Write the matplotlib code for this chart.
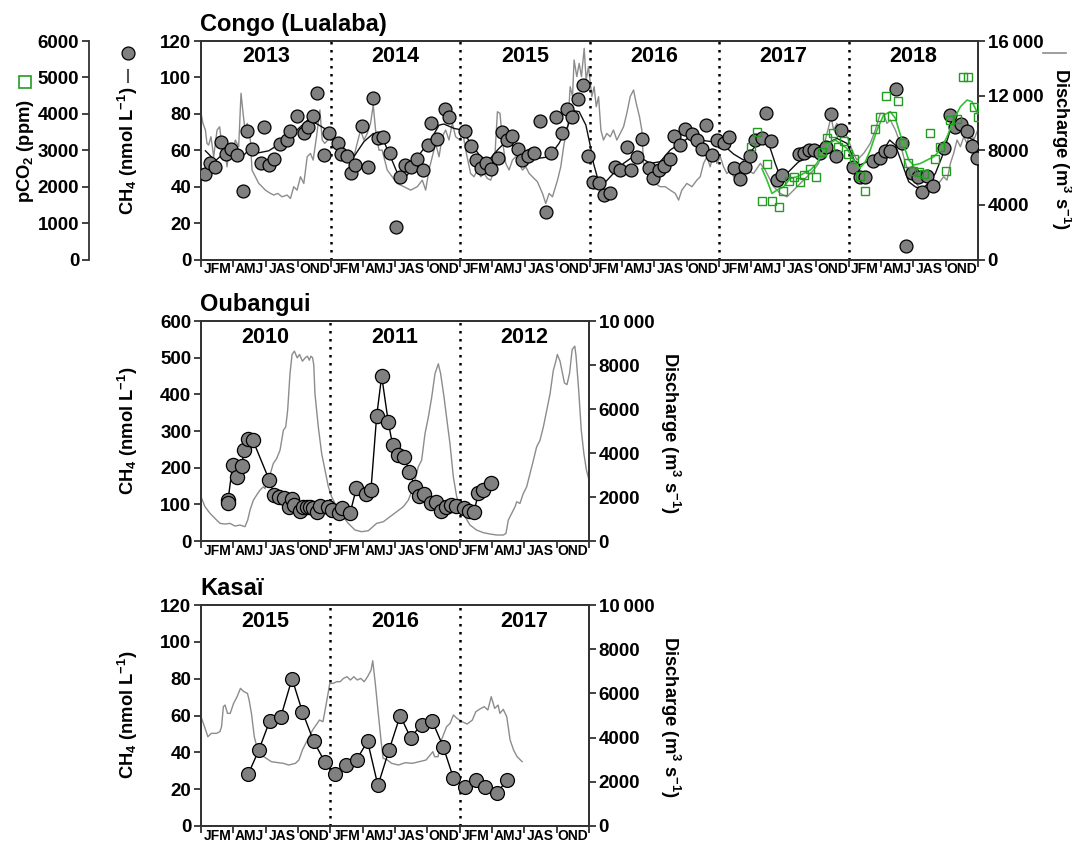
import numpy as np
import matplotlib
matplotlib.use('Agg')
import matplotlib.pyplot as plt
from matplotlib.lines import Line2D
from matplotlib.ticker import FuncFormatter

plt.rcParams['font.family'] = ['Liberation Sans', 'DejaVu Sans']
plt.rcParams['font.weight'] = 'bold'
plt.rcParams['mathtext.fontset'] = 'custom'
plt.rcParams['mathtext.rm'] = 'Liberation Sans:bold'
plt.rcParams['mathtext.it'] = 'Liberation Sans:bold'
plt.rcParams['mathtext.bf'] = 'Liberation Sans:bold'
plt.rcParams['mathtext.default'] = 'bf'

QUARTERS = ['JFM', 'AMJ', 'JAS', 'OND']

# ---------------- Congo (Lualaba), 2013-2018 ----------------
congo_years = [2013, 2014, 2015, 2016, 2017, 2018]

congo_ch4_t = [
    2013.031, 2013.070, 2013.108, 2013.152, 2013.193, 2013.234, 2013.278, 2013.327, 2013.358, 2013.396,
    2013.461, 2013.489, 2013.523, 2013.564, 2013.610, 2013.662, 2013.687, 2013.744, 2013.793, 2013.826,
    2013.862, 2013.896, 2013.952, 2013.991,
    2014.059, 2014.082, 2014.129, 2014.160, 2014.188, 2014.247, 2014.289, 2014.325, 2014.366, 2014.407,
    2014.459, 2014.503, 2014.536, 2014.575, 2014.619, 2014.665, 2014.711, 2014.753, 2014.776, 2014.825,
    2014.881, 2014.912,
    2015.036, 2015.087, 2015.120, 2015.163, 2015.204, 2015.240, 2015.291, 2015.327, 2015.365, 2015.403,
    2015.449, 2015.482, 2015.528, 2015.574, 2015.617, 2015.663, 2015.702, 2015.740, 2015.791, 2015.824,
    2015.867, 2015.908, 2015.949, 2015.990,
    2016.026, 2016.070, 2016.113, 2016.160, 2016.196, 2016.237, 2016.289, 2016.322, 2016.366, 2016.407,
    2016.456, 2016.490, 2016.534, 2016.577, 2016.619, 2016.655, 2016.696, 2016.740, 2016.791, 2016.830,
    2016.871, 2016.902, 2016.946, 2016.985,
    2017.036, 2017.075, 2017.118, 2017.159, 2017.203, 2017.237, 2017.280, 2017.332, 2017.365, 2017.401,
    2017.447, 2017.486, 2017.614, 2017.653, 2017.694, 2017.735, 2017.781, 2017.828, 2017.864, 2017.905,
    2017.941,
    2018.034, 2018.085, 2018.129, 2018.188, 2018.240, 2018.284, 2018.322, 2018.369, 2018.415, 2018.446,
    2018.490, 2018.534, 2018.567, 2018.606, 2018.650, 2018.735, 2018.781, 2018.825, 2018.869, 2018.915,
    2018.954, 2018.992,
]
congo_ch4 = [
    46.9, 53.1, 50.6, 64.5, 57.9, 60.5, 57.2, 37.7, 70.7, 60.8,
    53.1, 72.5, 52.0, 55.3, 63.4, 65.6, 70.7, 78.8, 69.2, 72.9,
    78.8, 91.6, 57.5, 69.6,
    64.1, 57.9, 56.8, 47.6, 51.8, 73.3, 50.6, 88.9, 67.0, 67.4,
    58.6, 18.0, 45.4, 51.7, 50.6, 55.0, 49.1, 62.8, 75.1, 66.0,
    82.4, 78.0,
    70.7, 62.3, 54.6, 50.2, 52.8, 49.5, 55.7, 70.2, 65.6, 67.8,
    60.5, 54.6, 56.8, 58.6, 76.2, 26.2, 58.3, 78.0, 69.6, 82.4,
    78.4, 87.9, 95.8, 56.8,
    42.7, 42.1, 35.2, 36.6, 50.6, 49.1, 61.6, 49.1, 56.4, 66.0,
    50.0, 44.7, 49.1, 51.3, 55.0, 68.1, 62.8, 71.4, 68.9, 65.6,
    60.8, 73.8, 57.2, 65.6,
    63.8, 67.4, 50.0, 44.3, 50.9, 56.8, 65.6, 67.0, 80.6, 65.2,
    43.6, 46.3, 57.9, 58.6, 60.1, 60.1, 58.6, 61.9, 79.9, 56.8,
    71.1,
    50.9, 45.4, 45.4, 53.9, 55.5, 59.7, 59.7, 93.4, 64.1, 7.3,
    47.3, 45.1, 37.0, 45.8, 40.3, 61.0, 79.3, 72.5, 74.4, 70.7,
    62.3, 55.5,
]

# running-mean CH4 curve
congo_ch4_smooth_t = [
    2013.034, 2013.111, 2013.175, 2013.253, 2013.317, 2013.394, 2013.446, 2013.523, 2013.613, 2013.691,
    2013.768, 2013.825, 2013.897, 2013.974, 2014.052, 2014.129, 2014.180, 2014.258, 2014.330, 2014.399,
    2014.464, 2014.528, 2014.567, 2014.631, 2014.696, 2014.773, 2014.838, 2014.876, 2014.954, 2015.018,
    2015.082, 2015.160, 2015.224, 2015.289, 2015.353, 2015.405, 2015.469, 2015.546, 2015.598, 2015.688,
    2015.765, 2015.830, 2015.881, 2015.920, 2015.972, 2016.005, 2016.031, 2016.070, 2016.108, 2016.185,
    2016.263, 2016.353, 2016.404, 2016.469, 2016.546, 2016.623, 2016.700, 2016.778, 2016.855, 2016.945,
    2017.035, 2017.113, 2017.190, 2017.267, 2017.331, 2017.383, 2017.434, 2017.473, 2017.525, 2017.602,
    2017.679, 2017.756, 2017.834, 2017.911, 2017.988, 2018.065, 2018.117, 2018.168, 2018.246, 2018.318,
    2018.362, 2018.413, 2018.465, 2018.516, 2018.568, 2018.619, 2018.671, 2018.722, 2018.786, 2018.838,
    2018.915, 2018.967, 2019.000,
]
congo_ch4_smooth = [
    59.7, 54.2, 58.3, 57.9, 56.4, 61.9, 58.6, 59.7, 63.8, 67.8,
    72.9, 76.6, 74.4, 71.1, 63.8, 57.3, 56.4, 64.7, 69.2, 67.0,
    56.4, 45.4, 44.0, 50.0, 58.6, 65.6, 73.8, 74.4, 72.0, 71.1,
    63.8, 56.4, 54.6, 60.1, 64.7, 62.8, 57.9, 61.0, 55.5, 56.4,
    63.8, 72.9, 81.7, 81.2, 73.8, 62.8, 52.8, 42.7, 41.4, 47.3,
    52.8, 57.3, 55.5, 52.8, 53.7, 60.1, 63.8, 67.4, 65.6, 64.7,
    62.8, 57.9, 54.6, 61.0, 67.4, 63.8, 52.8, 45.4, 47.3, 52.8,
    57.3, 61.9, 63.8, 66.5, 63.8, 51.3, 52.8, 54.6, 57.3, 65.6,
    62.8, 52.8, 42.7, 39.9, 38.5, 42.1, 47.3, 56.4, 71.1, 73.3,
    67.4, 65.6, 60.1,
]

congo_pco2_t = [
    2017.246, 2017.293, 2017.331, 2017.370, 2017.409, 2017.460, 2017.494, 2017.537, 2017.576, 2017.628,
    2017.653, 2017.700, 2017.751, 2017.795, 2017.834, 2017.880, 2017.919, 2017.962, 2017.996,
    2018.045, 2018.086, 2018.130, 2018.207, 2018.246, 2018.292, 2018.336, 2018.380, 2018.421, 2018.457,
    2018.496, 2018.542, 2018.586, 2018.627, 2018.666, 2018.709, 2018.756, 2018.787, 2018.838, 2018.884,
    2018.923, 2018.967, 2019.000,
]
congo_pco2 = [
    3096, 3508, 1612, 2611, 1612, 1429, 1887, 2162, 2272, 2134,
    2318, 2473, 2253, 2959, 3325, 3462, 3078, 3261, 2895,
    2748, 2290, 1887, 3572, 3902, 4488, 3939, 4360, 3206, 2656,
    2437, 2409, 2345, 3462, 2748, 3096, 2437, 3829, 3847, 5020,
    5020, 4195, 3902,
]
congo_pco2_smooth_t = [
    2017.331, 2017.370, 2017.409, 2017.447, 2017.499, 2017.550, 2017.602, 2017.653, 2017.705, 2017.756,
    2017.795, 2017.847, 2017.898, 2017.937, 2017.988, 2018.040, 2018.086, 2018.130, 2018.168, 2018.220,
    2018.271, 2018.323, 2018.362, 2018.413, 2018.465, 2018.503, 2018.555, 2018.606, 2018.658, 2018.709,
    2018.761, 2018.812, 2018.864, 2018.915, 2018.954, 2018.998,
]
congo_pco2_smooth = [
    2500, 2180, 1814, 1905, 1997, 2226, 2272, 2363, 2455, 2638,
    2913, 3188, 3279, 3188, 3050, 2730, 2500, 2684, 3004, 3554,
    3966, 4058, 3875, 3279, 2730, 2592, 2638, 2730, 2821, 3004,
    3371, 3829, 4195, 4378, 4333, 4012,
]

congo_q_t = [
    2013.003, 2013.015, 2013.034, 2013.046, 2013.059, 2013.077, 2013.098, 2013.124, 2013.144, 2013.162,
    2013.175, 2013.201, 2013.222, 2013.240, 2013.265, 2013.291, 2013.309, 2013.325, 2013.343, 2013.356,
    2013.381, 2013.394, 2013.420, 2013.446, 2013.472, 2013.497, 2013.536, 2013.562, 2013.593, 2013.626,
    2013.665, 2013.691, 2013.716, 2013.742, 2013.768, 2013.794, 2013.820, 2013.845, 2013.866, 2013.892,
    2013.918, 2013.936, 2013.956, 2013.979, 2014.000, 2014.026, 2014.052, 2014.090, 2014.116, 2014.142,
    2014.180, 2014.206, 2014.232, 2014.258, 2014.284, 2014.309, 2014.330, 2014.348, 2014.374, 2014.399,
    2014.438, 2014.477, 2014.515, 2014.567, 2014.619, 2014.670, 2014.709, 2014.735, 2014.760, 2014.786,
    2014.812, 2014.838, 2014.863, 2014.889, 2014.915, 2014.941, 2014.966, 2015.000, 2015.018, 2015.044,
    2015.082, 2015.108, 2015.134, 2015.160, 2015.186, 2015.211, 2015.237, 2015.263, 2015.289, 2015.309,
    2015.327, 2015.353, 2015.379, 2015.405, 2015.430, 2015.456, 2015.482, 2015.508, 2015.534, 2015.559,
    2015.598, 2015.637, 2015.662, 2015.688, 2015.714, 2015.753, 2015.778, 2015.804, 2015.830, 2015.851,
    2015.869, 2015.881, 2015.902, 2015.920, 2015.938, 2015.959, 2015.974, 2015.992, 2016.018, 2016.036,
    2016.052, 2016.070, 2016.088, 2016.108, 2016.134, 2016.160, 2016.185, 2016.211, 2016.237, 2016.263,
    2016.288, 2016.314, 2016.340, 2016.361, 2016.386, 2016.404, 2016.417, 2016.443, 2016.469, 2016.507,
    2016.546, 2016.585, 2016.623, 2016.662, 2016.688, 2016.713, 2016.752, 2016.791, 2016.829, 2016.855,
    2016.881, 2016.907, 2016.932, 2016.958, 2016.984, 2017.010, 2017.035, 2017.061, 2017.087, 2017.113,
    2017.138, 2017.164, 2017.216, 2017.267, 2017.319, 2017.357, 2017.383, 2017.422, 2017.473, 2017.525,
    2017.576, 2017.628, 2017.679, 2017.731, 2017.769, 2017.795, 2017.821, 2017.847, 2017.865, 2017.885,
    2017.911, 2017.937, 2017.962, 2018.001, 2018.027, 2018.065, 2018.117, 2018.168, 2018.207, 2018.246,
    2018.271, 2018.297, 2018.323, 2018.362, 2018.400, 2018.426, 2018.465, 2018.503, 2018.542, 2018.586,
    2018.619, 2018.658, 2018.696, 2018.735, 2018.761, 2018.787, 2018.812, 2018.838, 2018.864, 2018.890,
    2018.915, 2018.941, 2018.967, 2018.998,
]
congo_q = [
    10580, 9970, 9480, 8500, 8380, 8990, 7520, 9480, 9720, 8260,
    8750, 6790, 8500, 7650, 8750, 8260, 12170, 10700, 9230, 9970,
    8750, 6550, 6060, 5570, 5330, 5080, 4840, 4720, 4840, 4590,
    4720, 4470, 5330, 5080, 6060, 5570, 7520, 7770, 7280, 8990,
    10950, 8750, 8500, 8750, 9480, 8990, 8010, 8500, 7770, 8010,
    7520, 8500, 9480, 8750, 9230, 9970, 11310, 9480, 8010, 8010,
    6550, 6060, 5570, 5330, 5080, 5330, 5810, 5080, 6550, 7520,
    8500, 7520, 8990, 9480, 8750, 9970, 8990, 8750, 9480, 8010,
    6300, 6060, 6550, 6060, 6300, 5940, 5810, 6550, 10820, 10700,
    8750, 7040, 6550, 7280, 7520, 7040, 6550, 6790, 6300, 6060,
    5690, 4840, 4100, 4840, 4590, 5810, 6790, 8500, 9480, 12650,
    11920, 14610, 13390, 14360, 13390, 15460, 13140, 14120, 11920, 12650,
    11190, 11920, 9480, 8750, 9230, 8990, 9480, 8750, 9230, 9720,
    10700, 11920, 12410, 11430, 10460, 9480, 7040, 6550, 6060, 5570,
    5330, 5330, 5080, 4840, 4350, 5080, 5570, 5330, 5810, 6060,
    7040, 7520, 6790, 7770, 7040, 7520, 6790, 6300, 6550, 6060,
    5810, 6060, 6550, 6300, 7040, 6550, 6060, 5330, 4840, 4590,
    5080, 5570, 6060, 6550, 7040, 7770, 8750, 9720, 10460, 9480,
    9970, 8990, 9480, 8750, 8010, 7280, 7770, 8500, 9480, 10700,
    10700, 9970, 10210, 9480, 8500, 7520, 6300, 5810, 5330, 4840,
    5080, 5330, 5570, 6060, 5810, 7040, 7770, 8750, 8260, 8990,
    8500, 9480, 8750, 9480,
]

# ---------------- Oubangui, 2010-2012 ----------------
oub_years = [2010, 2011, 2012]
oub_ch4_t = [
    2010.206, 2010.206, 2010.245, 2010.278, 2010.314, 2010.335, 2010.366, 2010.399, 2010.528, 2010.567,
    2010.603, 2010.644, 2010.680, 2010.706, 2010.722, 2010.765, 2010.791, 2010.817, 2010.843, 2010.869,
    2010.899, 2010.920, 2010.985, 2011.010, 2011.067, 2011.088, 2011.152, 2011.201, 2011.273, 2011.314,
    2011.358, 2011.397, 2011.448, 2011.482, 2011.526, 2011.572, 2011.611, 2011.655, 2011.688, 2011.727,
    2011.776, 2011.817, 2011.856, 2011.894, 2011.933, 2011.972, 2012.034, 2012.070, 2012.111, 2012.144,
    2012.183, 2012.240,
]
oub_ch4 = [
    111.5, 104.3, 206.7, 173.2, 204.9, 249.3, 279.2, 276.5, 165.9, 125.1,
    118.8, 116.0, 93.4, 113.3, 97.9, 82.5, 93.4, 93.4, 93.4, 88.8,
    79.8, 95.2, 93.4, 84.3, 75.2, 88.8, 75.2, 143.2, 126.9, 138.7,
    340.0, 449.7, 324.6, 261.0, 233.9, 229.4, 188.6, 147.8, 122.4, 127.8,
    102.4, 106.1, 82.5, 93.4, 97.9, 95.2, 88.8, 82.5, 79.8, 129.6,
    138.7, 158.7,
]
oub_q_t = [
    2010.000, 2010.031, 2010.070, 2010.108, 2010.147, 2010.186, 2010.224, 2010.263, 2010.302, 2010.340,
    2010.361, 2010.379, 2010.405, 2010.430, 2010.456, 2010.482, 2010.495, 2010.521, 2010.559, 2010.585,
    2010.611, 2010.637, 2010.655, 2010.670, 2010.688, 2010.704, 2010.722, 2010.744, 2010.762, 2010.784,
    2010.805, 2010.823, 2010.837, 2010.850, 2010.863, 2010.872, 2010.881, 2010.907, 2010.933, 2010.959,
    2010.985, 2011.010, 2011.036, 2011.088, 2011.139, 2011.191, 2011.242, 2011.294, 2011.358, 2011.410,
    2011.461, 2011.513, 2011.564, 2011.603, 2011.642, 2011.680, 2011.706, 2011.732, 2011.758, 2011.784,
    2011.809, 2011.835, 2011.853, 2011.879, 2011.905, 2011.925, 2011.951, 2011.977, 2012.003, 2012.041,
    2012.080, 2012.131, 2012.183, 2012.235, 2012.286, 2012.338, 2012.358, 2012.376, 2012.402, 2012.428,
    2012.441, 2012.466, 2012.492, 2012.518, 2012.544, 2012.570, 2012.595, 2012.621, 2012.647, 2012.673,
    2012.699, 2012.724, 2012.745, 2012.755, 2012.776, 2012.810, 2012.830, 2012.850, 2012.870, 2012.890,
    2012.900, 2012.920, 2012.940, 2012.960, 2012.980, 2013.000,
]
oub_q = [
    2010, 1556, 1254, 1027, 801, 771, 801, 680, 725, 650,
    952, 1405, 1858, 2085, 2312, 2463, 2387, 2765, 3520, 3747,
    4125, 5032, 5183, 5938, 7600, 8478, 8630, 8325, 8478, 8173,
    8325, 8401, 8219, 8401, 8325, 8000, 6694, 5183, 3974, 3218,
    2463, 2010, 1707, 1179, 801, 498, 423, 468, 801, 876,
    1103, 1330, 1556, 1858, 2463, 3370, 3672, 4880, 5636, 6543,
    7600, 8054, 7600, 6543, 5334, 4427, 2916, 2010, 1556, 1103,
    725, 498, 378, 317, 272, 272, 347, 952, 1254, 1556,
    1783, 1707, 2160, 2463, 3067, 3672, 4276, 4578, 5183, 5938,
    6694, 7751, 8205, 8478, 8173, 7184, 7108, 7640, 8706, 8858,
    8401, 6879, 5053, 3988, 3227, 2770,
]

# ---------------- Kasai, 2015-2017 ----------------
kas_years = [2015, 2016, 2017]
kas_ch4_t = [
    2015.364, 2015.446, 2015.531, 2015.616, 2015.704, 2015.784, 2015.871, 2015.956, 2016.036, 2016.124,
    2016.203, 2016.288, 2016.368, 2016.453, 2016.540, 2016.620, 2016.705, 2016.788, 2016.873, 2016.952,
    2017.040, 2017.130, 2017.199, 2017.287, 2017.369,
]
kas_ch4 = [
    28, 41, 57, 59, 80, 62, 46, 35, 28, 33,
    36, 46, 22, 41, 60, 48, 55, 57, 43, 26,
    21, 25, 21, 18, 25,
]
kas_q_t = [
    2015.000, 2015.027, 2015.053, 2015.080, 2015.120, 2015.146, 2015.159, 2015.173, 2015.186, 2015.205,
    2015.226, 2015.252, 2015.279, 2015.305, 2015.332, 2015.359, 2015.372, 2015.390, 2015.412, 2015.438,
    2015.465, 2015.505, 2015.544, 2015.598, 2015.637, 2015.677, 2015.730, 2015.757, 2015.784, 2015.810,
    2015.837, 2015.863, 2015.890, 2015.916, 2015.943, 2015.969, 2015.996, 2016.023, 2016.049, 2016.076,
    2016.102, 2016.129, 2016.155, 2016.182, 2016.208, 2016.235, 2016.262, 2016.288, 2016.315, 2016.328,
    2016.349, 2016.368, 2016.389, 2016.408, 2016.434, 2016.474, 2016.527, 2016.580, 2016.633, 2016.687,
    2016.740, 2016.793, 2016.806, 2016.833, 2016.859, 2016.899, 2016.926, 2016.952, 2016.979, 2017.019,
    2017.058, 2017.098, 2017.125, 2017.165, 2017.191, 2017.218, 2017.244, 2017.271, 2017.297, 2017.311,
    2017.337, 2017.364, 2017.390, 2017.417, 2017.444, 2017.470, 2017.483,
]
kas_q = [
    4946, 4494, 4041, 4192, 4192, 4268, 4494, 5399, 5474, 5097,
    5097, 5549, 5851, 6228, 6077, 6002, 5700, 5097, 4041, 3438,
    3212, 3061, 2910, 2865, 2835, 2760, 2835, 2986, 3438, 3740,
    4041, 4343, 4569, 4795, 4720, 5549, 6454, 6454, 6530, 6530,
    6680, 6756, 6605, 6756, 6605, 6680, 6530, 6756, 7057, 7480,
    6379, 5248, 4041, 3061, 3016, 2835, 2760, 2865, 2835, 2910,
    2986, 3363, 3137, 3137, 3891, 4494, 4645, 5022, 4871, 4720,
    4614, 4795, 5172, 5323, 5399, 5248, 5851, 5323, 5474, 5097,
    5278, 4946, 3891, 3438, 3137, 2986, 2910,
]

# ---------------- styling ----------------
W, H = 1072, 841
SPINE = '#333333'
QGRAY = '#8c8c8c'
CFACE = '#808080'
GSQ = '#239b23'
GLINE = '#2fc42f'
TICK_FS = 13.5


def px_rect(left, top, right, bottom):
    return [left / W, 1 - bottom / H, (right - left) / W, (bottom - top) / H]


def q_fmt(v, _):
    v = int(round(v))
    if v >= 10000:
        return f'{v:,}'.replace(',', '\u2009')
    return str(v)


def panel(rect, start, years, ymax, ystep, qmax, qstep, year_y):
    ny = len(years)
    ax = fig.add_axes(rect)
    axq = ax.twinx()
    ax.set_zorder(2)
    axq.set_zorder(1)
    ax.patch.set_visible(False)
    ax.set_xlim(start, start + ny)
    ax.set_ylim(0, ymax)
    axq.set_ylim(0, qmax)
    ax.set_yticks(np.arange(0, ymax + 0.1, ystep))
    axq.set_yticks(np.arange(0, qmax + 0.1, qstep))
    axq.yaxis.set_major_formatter(FuncFormatter(q_fmt))
    ax.set_xticks(np.arange(start, start + ny + 0.001, 0.25))
    ax.set_xticklabels([])
    ax.set_xticks(np.arange(start + 0.125, start + ny, 0.25), minor=True)
    ax.set_xticklabels(QUARTERS * ny, minor=True)
    ax.tick_params(axis='x', which='minor', length=0, labelsize=10, pad=2)
    ax.tick_params(axis='x', which='major', length=5, width=1.3, color=SPINE)
    ax.tick_params(axis='y', length=5, width=1.3, color=SPINE, labelsize=TICK_FS, pad=2)
    axq.tick_params(axis='y', length=5, width=1.3, color=SPINE, labelsize=TICK_FS, pad=2)
    for a in (ax, axq):
        for s in a.spines.values():
            s.set_color(SPINE)
            s.set_linewidth(1.3)
    for k in range(1, ny):
        ax.axvline(start + k, color='black', lw=1.8, ls=(0, (1, 2.2)), zorder=1)
    for k, yr in enumerate(years):
        ax.text(start + k + 0.5, year_y, str(yr), transform=ax.get_xaxis_transform(),
                ha='center', va='center', fontsize=15.5)
    return ax, axq


def ylabel(x, y, text, rot):
    fig.text(x / W, 1 - y / H, text, rotation=rot, ha='center', va='center', fontsize=13.2)


fig = plt.figure(figsize=(W / 100, H / 100), dpi=100)

# Congo panel
ax, axq = panel(px_rect(201, 41, 978, 259.5), 2013, congo_years, 120, 20, 16000, 4000, 0.93)
axq.plot(congo_q_t, congo_q, color=QGRAY, lw=1.0)
ax.plot(congo_ch4_smooth_t, congo_ch4_smooth, color='#111111', lw=1.0, zorder=3)
ax.plot(congo_ch4_t, congo_ch4, ls='none', marker='o', ms=9.3, mfc=CFACE, mec='black', mew=0.9, zorder=4)

axp = ax.twinx()
axp.set_zorder(3)
axp.set_ylim(0, 6000)
axp.set_yticks(np.arange(0, 6001, 1000))
axp.yaxis.set_ticks_position('left')
axp.spines['left'].set_position(('outward', 112 * 72 / 100))
for side in ('right', 'top', 'bottom'):
    axp.spines[side].set_visible(False)
axp.spines['left'].set_color(SPINE)
axp.spines['left'].set_linewidth(1.3)
axp.tick_params(axis='y', length=5, width=1.3, color=SPINE, labelsize=TICK_FS, pad=2)
axp.plot(congo_pco2_smooth_t, congo_pco2_smooth, color=GLINE, lw=1.2)
axp.plot(congo_pco2_t, congo_pco2, ls='none', marker='s', ms=6.3, mfc='none', mec=GSQ, mew=1.0)

fig.text(200 / W, 1 - 31.5 / H, 'Congo (Lualaba)', ha='left', va='baseline', fontsize=17)
ylabel(25, 151, r'pCO$_2$ (ppm)', 90)
ylabel(128, 151, r'CH$_4$ (nmol L$^{-1}$)', 90)
ylabel(1061, 149, r'Discharge (m$^3$ s$^{-1}$)', 270)
fig.add_artist(Line2D([25 / W], [1 - 82 / H], marker='s', ms=8, mfc='none', mec=GSQ, mew=1.2,
                      transform=fig.transFigure))
fig.add_artist(Line2D([128 / W], [1 - 53 / H], marker='o', ms=9.3, mfc=CFACE, mec='black', mew=0.9,
                      transform=fig.transFigure))
fig.add_artist(Line2D([128 / W, 128 / W], [1 - 70 / H, 1 - 82 / H], color='#555555', lw=1.5,
                      transform=fig.transFigure))
fig.add_artist(Line2D([1043 / W, 1066 / W], [1 - 53 / H, 1 - 53 / H], color=QGRAY, lw=1.2,
                      transform=fig.transFigure))

# Oubangui panel
ax, axq = panel(px_rect(201, 321, 589, 541), 2010, oub_years, 600, 100, 10000, 2000, 0.925)
axq.plot(oub_q_t, oub_q, color=QGRAY, lw=1.0)
ax.plot(oub_ch4_t, oub_ch4, color='black', lw=1.0, marker='o', ms=10.2, mfc=CFACE, mec='black', mew=0.9, zorder=4)
fig.text(200 / W, 1 - 310.5 / H, 'Oubangui', ha='left', va='baseline', fontsize=17)
ylabel(128, 431, r'CH$_4$ (nmol L$^{-1}$)', 90)
ylabel(670, 433, r'Discharge (m$^3$ s$^{-1}$)', 270)

# Kasai panel
ax, axq = panel(px_rect(201, 605, 589, 826), 2015, kas_years, 120, 20, 10000, 2000, 0.925)
axq.plot(kas_q_t, kas_q, color=QGRAY, lw=1.0)
ax.plot(kas_ch4_t, kas_ch4, color='black', lw=1.0, marker='o', ms=10.0, mfc=CFACE, mec='black', mew=0.9, zorder=4)
fig.text(200 / W, 1 - 595 / H, 'Kasaï', ha='left', va='baseline', fontsize=17)
ylabel(128, 715, r'CH$_4$ (nmol L$^{-1}$)', 90)
ylabel(670, 717, r'Discharge (m$^3$ s$^{-1}$)', 270)

fig.savefig('out.png', dpi=100, facecolor='white')
